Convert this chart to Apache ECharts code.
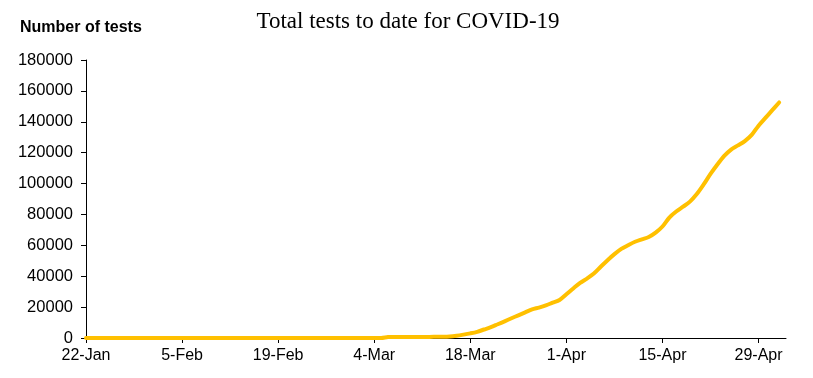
<!DOCTYPE html>
<html>
<head>
<meta charset="utf-8">
<script src="https://cdn.jsdelivr.net/npm/echarts@6/dist/echarts.min.js"></script>
<style>html,body{margin:0;padding:0;background:#fff}#c{width:813px;height:378px}</style>
</head>
<body>
<div id="c"></div>
<script>
// categories: daily dates from 22-Jan to 3-May (2020)
const MONTHS = ['Jan','Feb','Mar','Apr','May'];
const categories = [];
for (let i = 0; i <= 102; i++) {
  const d = new Date(Date.UTC(2020, 0, 22 + i));
  categories.push(d.getUTCDate() + '-' + MONTHS[d.getUTCMonth()]);
}
// cumulative tests, 22-Jan .. 2-May
const zerosJanToMar = [0,0,0,0,0,0,0,0,0,0,0,0,0,0,0,0,0,0,0,0,0,0,0,0,0,0,0,0,0,0,0,0,0,0,0,0,0,0,0,0,0,0,0,0];
const testsMar = [600,700,700,700,700,700,700,750,800,1000,1500,2200,3000,4000,5500,7000,8900,10800,12800,14700,16600,18500,19700,21100,22900,24600,28300,32100];
const testsApr = [35700,38500,41700,46100,50400,54300,57700,60100,62300,63900,65400,68200,72200,78000,81900,85000,88300,93200,99400,106200,112300,117900,122000,124700,127500,131500,137500,142500,147500,152500];
const tests = zerosJanToMar.concat(testsMar, testsApr);
const yTicks = [0,20000,40000,60000,80000,100000,120000,140000,160000,180000];
const labelEvery = 14;

const chart = echarts.init(document.getElementById('c'));
chart.setOption({
  animation: false,
  title: {
    text: 'Total tests to date for COVID-19',
    left: 403, top: 5, textAlign: 'center',
    textStyle: {fontFamily: 'Liberation Serif', fontWeight: 'normal', fontSize: 23, color: '#000'}
  },
  graphic: [{
    type: 'text', left: 20, top: 20,
    style: {text: 'Number of tests', font: 'bold 16px "Liberation Sans", Arial', fill: '#000'}
  }],
  grid: {left: 86, right: 27, top: 60, bottom: 40},
  xAxis: {
    type: 'category', data: categories, boundaryGap: false,
    axisLine: {lineStyle: {color: '#000', width: 1}},
    axisTick: {interval: function (i) { return i % labelEvery === 0; }, length: 5, lineStyle: {color: '#000'}},
    axisLabel: {interval: function (i) { return i % labelEvery === 0; }, hideOverlap: false, color: '#000', fontSize: 16, fontFamily: 'Liberation Sans', margin: 10},
    splitLine: {show: false}
  },
  yAxis: {
    type: 'value', min: yTicks[0], max: yTicks[yTicks.length - 1], interval: 20000,
    axisLine: {show: true, lineStyle: {color: '#000', width: 1}},
    axisTick: {show: true, length: 5, lineStyle: {color: '#000'}},
    axisLabel: {color: '#000', fontSize: 16.5, fontFamily: 'Liberation Sans', margin: 13, formatter: function (v) { return String(v); }},
    splitLine: {show: false}
  },
  series: [{
    type: 'line', data: tests, showSymbol: false, smooth: 0.3,
    lineStyle: {color: '#FFC000', width: 4, cap: 'round', join: 'round'},
    itemStyle: {color: '#FFC000'}
  }]
});
</script>
</body>
</html>
